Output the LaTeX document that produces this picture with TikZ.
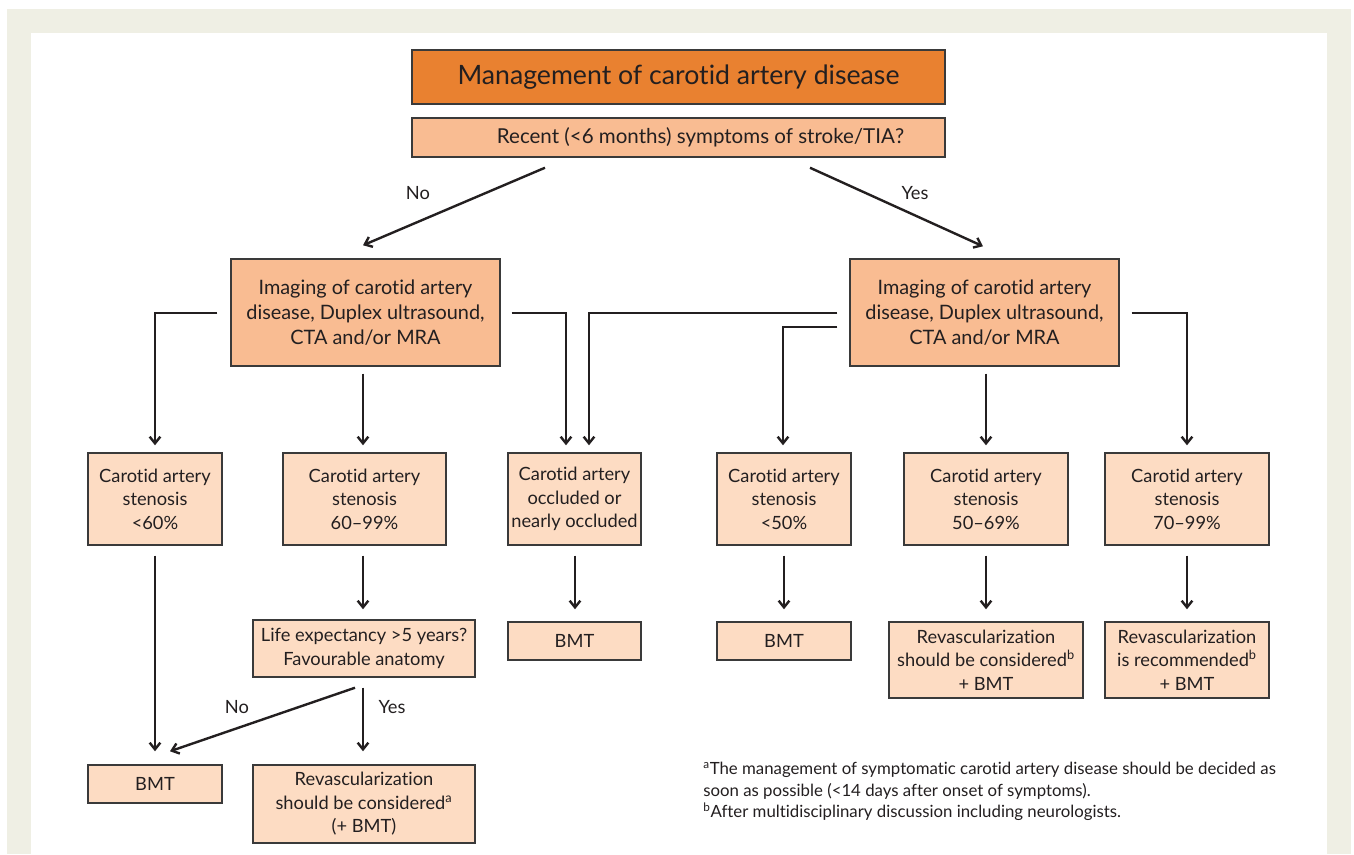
\documentclass[tikz,border=0pt]{standalone}
\usepackage{fontspec}
\setmainfont{Lato}[Ligatures={NoCommon}]
\usetikzlibrary{arrows.meta,calc}
\definecolor{paper}{HTML}{EFEFE4}
\definecolor{ink}{HTML}{231F20}
\definecolor{edge}{HTML}{3A3A3A}
\definecolor{headfill}{HTML}{E98130}
\definecolor{midfill}{HTML}{F9BC92}
\definecolor{lightfill}{HTML}{FDDCC3}
\newcommand\ftitle{\fontsize{20}{23}\selectfont}
\newcommand\fq{\fontsize{15.4}{18}\selectfont}
\newcommand\fimg{\fontsize{14.9}{19}\selectfont}
\newcommand\fbody{\fontsize{13.7}{17.6}\selectfont}
\newcommand\fnote{\fontsize{12.6}{16.1}\selectfont}
\begin{document}
\begin{tikzpicture}[x=0.75pt,y=-0.75pt,
  sz/.style 2 args={minimum width=#1*0.75pt,minimum height=#2*0.75pt},
  box/.style={draw=edge,line width=1.1pt,align=center,inner sep=0pt,text=ink},
  headbox/.style={box,fill=headfill,font=\ftitle},
  qbox/.style={box,fill=midfill,font=\fq},
  imgbox/.style={box,fill=midfill,font=\fimg},
  leafbox/.style={box,fill=lightfill,font=\fbody},
  arr/.style={draw=ink,line width=1.8pt,-{Straight Barb[length=5pt,width=8pt]}},
  lbl/.style={text=ink,font=\fbody,inner sep=0pt},
]
% page and frame
\fill[white] (0,0) rectangle (1354,854);
\fill[paper] (7,9) rectangle (1351,854);
\fill[white] (31,33) rectangle (1327,854);
\useasboundingbox (0,0) rectangle (1354,854);

% header and question
\node[headbox,sz={533}{54}] (title) at (678.5,77) {Management of carotid artery disease};
\node[qbox,sz={533}{39}] (q) at (678.5,137.5) {\hspace*{33pt}Recent (<6 months) symptoms of stroke/TIA?};

% imaging
\node[imgbox,sz={269}{107}] (imL) at (365.5,312.5) {Imaging of carotid artery\\disease, Duplex ultrasound,\\CTA and/or MRA};
\node[imgbox,sz={269}{107}] (imR) at (984.5,312.5) {Imaging of carotid artery\\disease, Duplex ultrasound,\\CTA and/or MRA};

% stenosis classes
\node[leafbox,sz={134}{92}] (s1) at (155,499) {Carotid artery\\stenosis\\<60\%};
\node[leafbox,sz={163}{92}] (s2) at (364.5,499) {Carotid artery\\stenosis\\60--99\%};
\node[leafbox,sz={133}{92}] (s3) at (574.5,499) {Carotid artery\\occluded or\\nearly occluded};
\node[leafbox,sz={134}{92}] (s4) at (784,499) {Carotid artery\\stenosis\\<50\%};
\node[leafbox,sz={164}{92}] (s5) at (986,499) {Carotid artery\\stenosis\\50--69\%};
\node[leafbox,sz={164}{92}] (s6) at (1187,499) {Carotid artery\\stenosis\\70--99\%};

% outcomes
\node[leafbox,sz={222}{57}] (life) at (364,648.5) {Life expectancy >5 years?\\Favourable anatomy};
\node[leafbox,sz={133}{38}] (bmt3) at (574.5,641) {BMT};
\node[leafbox,sz={134}{38}] (bmt4) at (784,641) {BMT};
\node[leafbox,sz={194}{76}] (rev5) at (986,660) {Revascularization\\should be considered\textsuperscript{b}\\+ BMT};
\node[leafbox,sz={164}{76}] (rev6) at (1187,660) {Revascularization\\is recommended\textsuperscript{b}\\+ BMT};
\node[leafbox,sz={134}{38}] (bmt1) at (155,784) {BMT};
\node[leafbox,sz={222}{78}] (rev2) at (364,804) {Revascularization\\should be considered\textsuperscript{a}\\(+ BMT)};

% question branches
\coordinate (noS) at ($(q.south)+(-133.5,10)$);
\coordinate (noE) at ($(imL.north)+(-2.5,-13)$);
\coordinate (yesS) at ($(q.south)+(131.5,10)$);
\coordinate (yesE) at ($(imR.north)+(-1.5,-12)$);
\draw[arr] (noS) -- (noE);
\draw[arr] (yesS) -- (yesE);
\node[lbl] (noA) at (418,193) {No};
\node[lbl] (yesA) at (915,193) {Yes};

% imaging to stenosis classes
\draw[arr] ($(imL.west)+(-13,0.5)$) -| ($(s1.north)+(0,-7)$);
\draw[arr] ($(imL.south)+(-2.5,7)$) -- ($(s2.north)+(-1.5,-7)$);
\draw[arr] ($(imL.east)+(11,0.5)$) -| ($(s3.north)+(-8.5,-7)$);
\draw[arr] ($(imR.west)+(-12,0.5)$) -| ($(s3.north)+(14.5,-7)$);
\draw[arr] ($(imR.west)+(-12,14.5)$) -| ($(s4.north)+(-1,-7)$);
\draw[arr] ($(imR.south)+(1.5,7)$) -- ($(s5.north)+(0,-7)$);
\draw[arr] ($(imR.east)+(12,0.5)$) -| ($(s6.north)+(0,-7)$);

% stenosis classes to outcomes
\draw[arr] ($(s1.south)+(0,10)$) -- ($(bmt1.north)+(0,-13)$);
\draw[arr] ($(s2.south)+(-1.5,10)$) -- ($(life.north)+(-1,-10)$);
\draw[arr] ($(s3.south)+(0.5,10)$) -- ($(bmt3.north)+(0.5,-12)$);
\draw[arr] ($(s4.south)+(0,10)$) -- ($(bmt4.north)+(0,-12)$);
\draw[arr] ($(s5.south)+(0,10)$) -- ($(rev5.north)+(0,-12)$);
\draw[arr] ($(s6.south)+(0,10)$) -- ($(rev6.north)+(0,-12)$);

% life expectancy decision
\draw[arr] ($(life.south)+(-9,10)$) -- ($(bmt1.north)+(15,-13)$);
\draw[arr] ($(life.south)+(-1,10)$) -- ($(rev2.north)+(-1,-13)$);
\node[lbl] (noB) at (237,707) {No};
\node[lbl] (yesB) at (392,707) {Yes};

% footnotes
\node[anchor=north west,align=left,inner sep=0pt,text=ink,font=\fnote] (notes) at (703,762)
  {\textsuperscript{a}The management of symptomatic carotid artery disease should be decided as\\
   soon as possible (<14 days after onset of symptoms).\\
   \textsuperscript{b}After multidisciplinary discussion including neurologists.};
\end{tikzpicture}
\end{document}
